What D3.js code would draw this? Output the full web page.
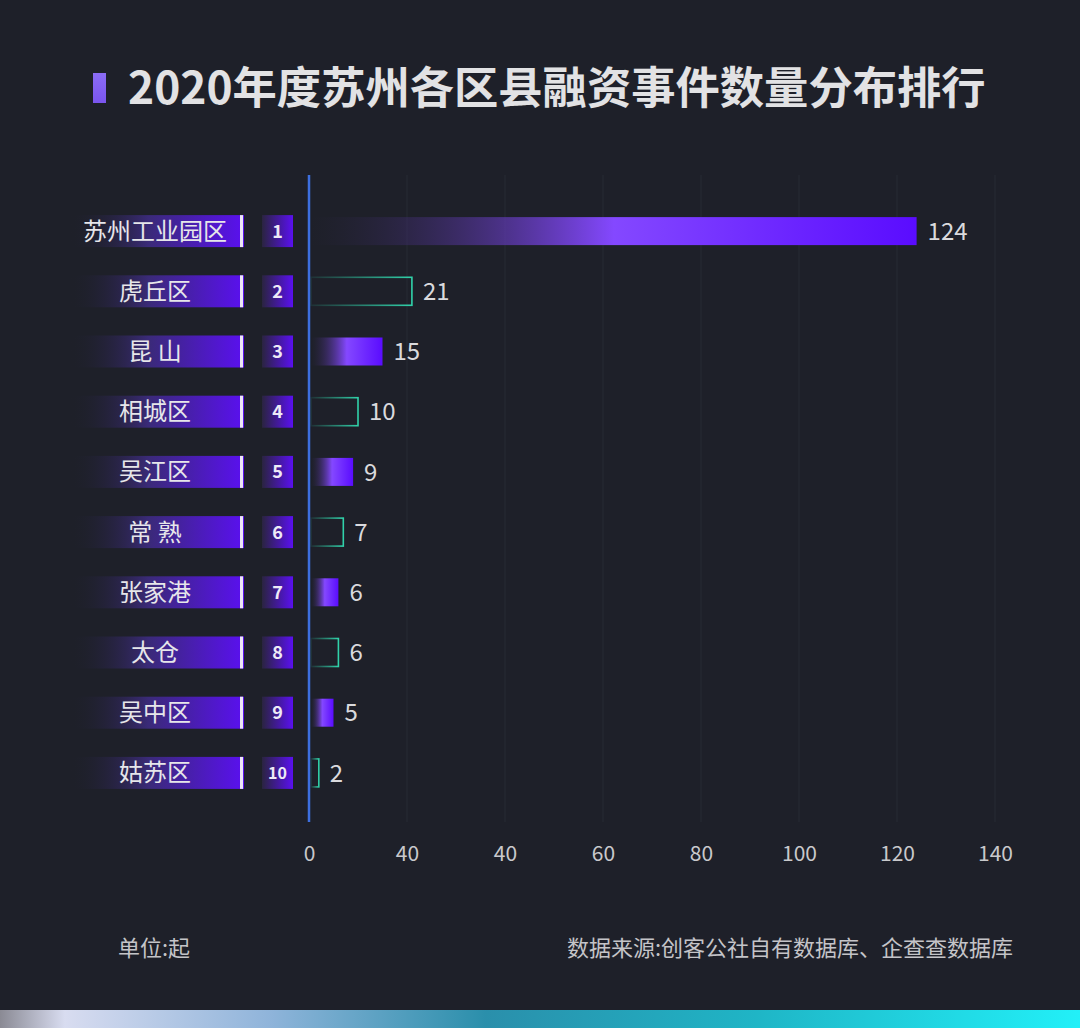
<!DOCTYPE html>
<html><head><meta charset="utf-8">
<script src="https://cdn.jsdelivr.net/npm/d3@7/dist/d3.min.js"></script>
<style>
html,body{margin:0;padding:0;background:#1e2029;}
svg{display:block;}
</style></head>
<body>
<svg id="chart" width="1080" height="1028"></svg>
<script>
const categories = ["苏州工业园区","虎丘区","昆 山","相城区","吴江区","常 熟","张家港","太仓","吴中区","姑苏区"];
const values = [124,21,15,10,9,7,6,6,5,2];
const ranks = ["1","2","3","4","5","6","7","8","9","10"];
const tickValues = [0,20,40,60,80,100,120,140];
const tickLabels = ["0","40","40","60","80","100","120","140"];
const title = "2020年度苏州各区县融资事件数量分布排行";
const unitText = "单位:起";
const sourceText = "数据来源:创客公社自有数据库、企查查数据库";

const svg = d3.select("#chart");
const W = 1080, H = 1028;
const font = "'Noto Sans CJK SC','Noto Sans',sans-serif";

svg.append("rect").attr("width",W).attr("height",H).attr("fill","#1e2029");

const defs = svg.append("defs");
const gBar = defs.append("linearGradient").attr("id","gBar").attr("x1","0%").attr("x2","100%");
gBar.append("stop").attr("offset","0%").attr("stop-color","#1e2029").attr("stop-opacity",0.2);
gBar.append("stop").attr("offset","50%").attr("stop-color","#8448ff");
gBar.append("stop").attr("offset","100%").attr("stop-color","#5a0cff");

const gOut = defs.append("linearGradient").attr("id","gOut").attr("x1","0%").attr("x2","100%");
gOut.append("stop").attr("offset","0%").attr("stop-color","#2fc9a3").attr("stop-opacity",0.1);
gOut.append("stop").attr("offset","100%").attr("stop-color","#30d2aa");

const gLab = defs.append("linearGradient").attr("id","gLab").attr("x1","0%").attr("x2","100%");
gLab.append("stop").attr("offset","0%").attr("stop-color","#1e2029").attr("stop-opacity",0);
gLab.append("stop").attr("offset","45%").attr("stop-color","#3a2a78");
gLab.append("stop").attr("offset","100%").attr("stop-color","#5a10f0");

const gRank = defs.append("linearGradient").attr("id","gRank").attr("x1","0%").attr("x2","100%");
gRank.append("stop").attr("offset","0%").attr("stop-color","#2a2440");
gRank.append("stop").attr("offset","100%").attr("stop-color","#5a10f0");

const gStrip = defs.append("linearGradient").attr("id","gStrip").attr("x1","0%").attr("x2","100%");
gStrip.append("stop").attr("offset","0%").attr("stop-color","#8a8a94");
gStrip.append("stop").attr("offset","6%").attr("stop-color","#d8dcf0");
gStrip.append("stop").attr("offset","25%").attr("stop-color","#8fb4da");
gStrip.append("stop").attr("offset","45%").attr("stop-color","#2a8fab");
gStrip.append("stop").attr("offset","70%").attr("stop-color","#1fb5c6");
gStrip.append("stop").attr("offset","100%").attr("stop-color","#22f0f8");

const gTitle = defs.append("linearGradient").attr("id","gTitle").attr("x1","0%").attr("x2","0%").attr("y1","0%").attr("y2","100%");
gTitle.append("stop").attr("offset","0%").attr("stop-color","#8b6cf5");
gTitle.append("stop").attr("offset","100%").attr("stop-color","#7a55ee");

// Title
svg.append("rect").attr("x",93).attr("y",73).attr("width",13).attr("height",30).attr("fill","url(#gTitle)");
svg.append("text").attr("x",128).attr("y",104).attr("fill","#e2e2e4")
  .attr("font-family",font).attr("font-weight",700).attr("font-size",44.3).text(title);

// Scales
const x = d3.scaleLinear().domain([0,140]).range([309,995]);
const y = d3.scaleBand().domain(categories).range([201,803]).paddingInner(0.5).paddingOuter(0.25);
const yc = d => y(d) + y.bandwidth()/2;

// Gridlines
svg.append("g").selectAll("line").data(tickValues.slice(1)).join("line")
  .attr("x1",d=>x(d)).attr("x2",d=>x(d)).attr("y1",175).attr("y2",822)
  .attr("stroke","#272a35").attr("stroke-width",1);

// Axis tick labels via d3 axis
const axis = d3.axisBottom(x).tickValues(tickValues).tickFormat((d,i)=>tickLabels[i]).tickSize(0).tickPadding(0);
const ag = svg.append("g").attr("transform","translate(0,854)").call(axis);
ag.select(".domain").remove();
ag.selectAll("text").attr("fill","#c9c9cc").attr("font-family",font).attr("font-size",21).attr("dy","0.35em");

// Label boxes
const rows = svg.append("g").selectAll("g").data(categories).join("g");
rows.append("rect").attr("x",70).attr("y",d=>yc(d)-16).attr("width",174).attr("height",32).attr("fill","url(#gLab)");
rows.append("rect").attr("x",240).attr("y",d=>yc(d)-16).attr("width",3).attr("height",32).attr("fill","#ece6f6");
rows.append("text").attr("x",155).attr("y",d=>yc(d)).attr("dy","0.35em").attr("text-anchor","middle")
  .attr("fill","#e6e6ea").attr("font-family",font).attr("font-size",24).text(d=>d);
rows.append("rect").attr("x",262).attr("y",d=>yc(d)-16).attr("width",31).attr("height",32).attr("fill","url(#gRank)");
rows.append("text").attr("x",277.5).attr("y",d=>yc(d)).attr("dy","0.36em").attr("text-anchor","middle")
  .attr("fill","#eeeaf6").attr("font-family",font).attr("font-weight",700).attr("font-size",(d,i)=>i===9?16:18)
  .text((d,i)=>ranks[i]);

// Bars
const bars = svg.append("g").selectAll("g").data(categories).join("g");
bars.each(function(d,i){
  const g = d3.select(this);
  const v = values[i];
  if(i%2===0){
    g.append("rect").attr("x",x(0)+2).attr("y",yc(d)-14).attr("width",x(v)-x(0)-2).attr("height",28).attr("fill","url(#gBar)");
  } else {
    g.append("rect").attr("x",x(0)+2).attr("y",yc(d)-14).attr("width",x(v)-x(0)-2).attr("height",28)
      .attr("fill","none").attr("stroke","url(#gOut)").attr("stroke-width",1.6);
  }
  g.append("text").attr("x",x(v)+11).attr("y",yc(d)).attr("dy","0.36em")
    .attr("fill","#dadadd").attr("font-family",font).attr("font-size",24).text(v);
});

// Axis line
svg.append("line").attr("x1",x(0)).attr("x2",x(0)).attr("y1",175).attr("y2",822)
  .attr("stroke","#3d6fe0").attr("stroke-width",2.5);

// Footer
svg.append("text").attr("x",118).attr("y",956).attr("fill","#c4c4c8").attr("font-family",font).attr("font-size",22).text(unitText);
svg.append("text").attr("x",1013).attr("y",956).attr("text-anchor","end").attr("fill","#c4c4c8").attr("font-family",font).attr("font-size",22).text(sourceText);

// Bottom strip
svg.append("rect").attr("x",0).attr("y",1010).attr("width",W).attr("height",18).attr("fill","url(#gStrip)");
</script>
</body></html>
